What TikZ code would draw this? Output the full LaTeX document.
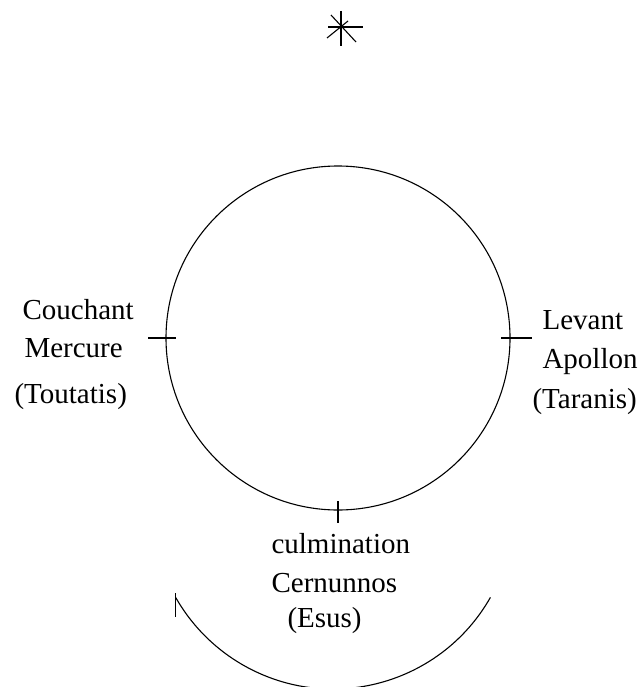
\documentclass[tikz,border=0pt]{standalone}
\usepackage{fontspec}
\setmainfont{Liberation Serif}
\begin{document}
\begin{tikzpicture}[x=1pt,y=-1pt,line width=1.1pt]
		\tikzset{txt/.style = {anchor=base west,inner sep=0pt,font=\fontsize{29}{35}\selectfont}}
		\tikzset{tick/.style = {line width=1.1pt}}
		\useasboundingbox (0,0) rectangle (642,687);
		% star
		\coordinate (star) at (341,27);
		\draw (star) ++(0,-16) -- ++(0,35);
		\draw (star) ++(-13,0) -- ++(35,0);
		\draw (star) ++(-10,-12) -- ++(25,27);
		\draw (star) ++(-14,11) -- ++(21,-17);
		% orbit
		\coordinate (centre) at (338,338);
		\draw (centre) circle[radius=172pt];
		\coordinate (couchant) at (166,338);
		\coordinate (levant) at (510,338);
		\coordinate (culmination) at (338,510);
		\draw[tick] (couchant) ++(-18,0) -- ++(28,0);
		\draw[tick] (levant) ++(-9,0) -- ++(31,0);
		\draw[tick] (culmination) ++(0,-9) -- ++(0,22);
		% texts
		\node[txt] (couchantA) at (22,319) {Couchant};
		\node[txt] (couchantB) at (24,357) {Mercure};
		\node[txt] (couchantC) at (14,403) {(Toutatis)};
		\node[txt] (levantA) at (542,329) {Levant};
		\node[txt] (levantB) at (542,368) {Apollon};
		\node[txt] (levantC) at (532,408) {(Taranis)};
		\node[txt] (culminationA) at (271,553) {culmination};
		\node[txt] (culminationB) at (271,592) {Cernunnos};
		\node[txt] (culminationC) at (287,627) {(Esus)};
		% course
		\coordinate (coursestart) at (490.4,597.4);
		\draw (coursestart) arc[start angle=-29.6,end angle=-150.4,radius=181pt] coordinate (courseend);
		\draw (courseend) ++(0,-4) -- ++(0,24);
	\end{tikzpicture}
\end{document}
